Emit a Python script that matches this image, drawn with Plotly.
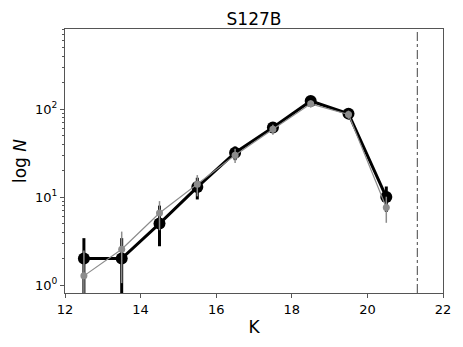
import plotly.graph_objects as go

# magnitude bins
k_bins = [12.5, 13.5, 14.5, 15.5, 16.5, 17.5, 18.5, 19.5, 20.5]

# black series (counts and errors)
n_black = [2, 2, 5, 13, 32, 62, 124, 89, 10]
err_black_up = [1.41, 1.41, 3.0, 3.6, 5.7, 7.9, 11.1, 9.4, 3.2]
err_black_dn = [1.41, 1.41, 2.24, 3.6, 5.7, 7.9, 11.1, 9.4, 3.2]

# grey series
n_grey = [1.27, 2.55, 6.6, 14, 30, 59, 115, 87, 7.6]
err_grey_up = [1.2, 1.5, 2.4, 3.8, 5.5, 7.7, 10.7, 9.3, 2.5]
err_grey_dn = [1.1, 1.5, 2.4, 3.8, 5.5, 7.7, 10.7, 9.3, 2.5]

y_ticks = [1, 10, 100]
y_ticktext = ['10<sup>0</sup>', '10<sup>1</sup>', '10<sup>2</sup>']
y_minor = [m * d for d in (1, 10, 100) for m in range(2, 10)]

k_limit = 21.32

fig = go.Figure()
fig.add_trace(
    go.Scatter(
        x=k_bins,
        y=n_black,
        mode='lines+markers',
        line=dict(color='black', width=3),
        marker=dict(color='black', size=12),
        error_y=dict(type='data', array=err_black_up, arrayminus=err_black_dn,
                     color='black', thickness=3, width=0),
        name='black'
    ))
fig.add_trace(
    go.Scatter(
        x=k_bins,
        y=n_grey,
        mode='lines+markers',
        line=dict(color='#8c8c8c', width=1.2),
        marker=dict(color='#8c8c8c', size=7),
        error_y=dict(type='data', array=err_grey_up, arrayminus=err_grey_dn,
                     color='#8c8c8c', thickness=1.5, width=0),
        name='grey'
    ))
fig.add_vline(x=k_limit, line=dict(color='#444444', width=1, dash='dashdot'))

axis_style = dict(
    showline=True, linecolor='#555555', linewidth=1, mirror=True,
    ticks='outside', ticklen=4, tickcolor='#555555', showgrid=False, zeroline=False,
    tickfont=dict(size=13, color='black'),
)

# page body has an 8px margin, so the figure is shrunk by that much
fig.update_layout(
    width=455, height=339,
    margin=dict(l=57, r=20, t=21, b=54, autoexpand=False),
    plot_bgcolor='white', paper_bgcolor='white',
    font=dict(family='DejaVu Sans', color='black'),
    showlegend=False,
    title=dict(text='S127B', xref='paper', x=0.5, xanchor='center', y=0.967, yanchor='middle',
               font=dict(size=17)),
    xaxis=dict(range=[12, 22], dtick=2, tick0=12, automargin=False,
               title=dict(text='K', font=dict(size=17), standoff=5), **axis_style),
    yaxis=dict(type='log', range=[-0.091, 2.912], tickvals=y_ticks, ticktext=y_ticktext,
               automargin=False,
               minor=dict(tickvals=y_minor, ticks='outside', ticklen=2,
                          tickcolor='#555555', showgrid=False),
               title=dict(text='log <i>N</i>', font=dict(size=17), standoff=4), **axis_style),
)

fig.write_html("out.html")
